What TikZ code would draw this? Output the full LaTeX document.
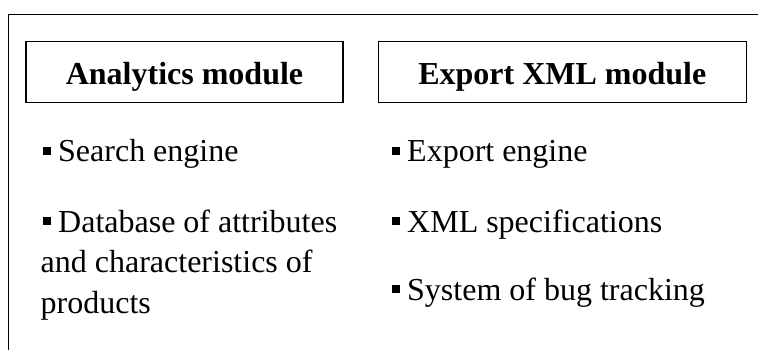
\documentclass[tikz,border=0pt]{standalone}
\usepackage{fontspec}
\setmainfont{Liberation Serif}
\newcommand{\sqbul}{\rule[7pt]{8pt}{8pt}\hspace{7pt}}
\begin{document}
\begin{tikzpicture}[x=1pt,y=-1pt,
  frameline/.style={line width=1.3pt},
  txt/.style={font=\fontsize{32}{40.5}\selectfont, inner sep=0pt, anchor=base west, align=left},
  modbox/.style={draw, line width=1.3pt, minimum height=61pt, inner sep=0pt,
    text height=26.4pt, text depth=0pt, font=\fontsize{32}{38}\selectfont\bfseries}]
\useasboundingbox (0,0) rectangle (758,350);
% open outer frame (top and left sides)
\coordinate (fbl) at (8.7,350);
\coordinate (ftl) at (8.7,14.5);
\coordinate (ftr) at (758,14.5);
\draw[frameline] (fbl) -- (ftl) -- (ftr);
% module boxes
\node[modbox, minimum width=317pt] (amod) at (184.5,71.8) {Analytics module};
\node[modbox, minimum width=368pt] (emod) at (562.3,71.8) {Export XML module};
% left column
\node[txt] (search) at (43,162) {\sqbul Search engine};
% multi-line node: base anchor is the baseline of its last line
\node[txt] (dbase) at (40.5,313) {\hspace{2.5pt}\sqbul Database of attributes\\and characteristics of\\products};
% right column
\node[txt] (export) at (392,162) {\sqbul Export engine};
\node[txt] (xmlspec) at (392,232) {\sqbul XML specifications};
\node[txt] (bugs) at (392,300) {\sqbul System of bug tracking};
\end{tikzpicture}
\end{document}
